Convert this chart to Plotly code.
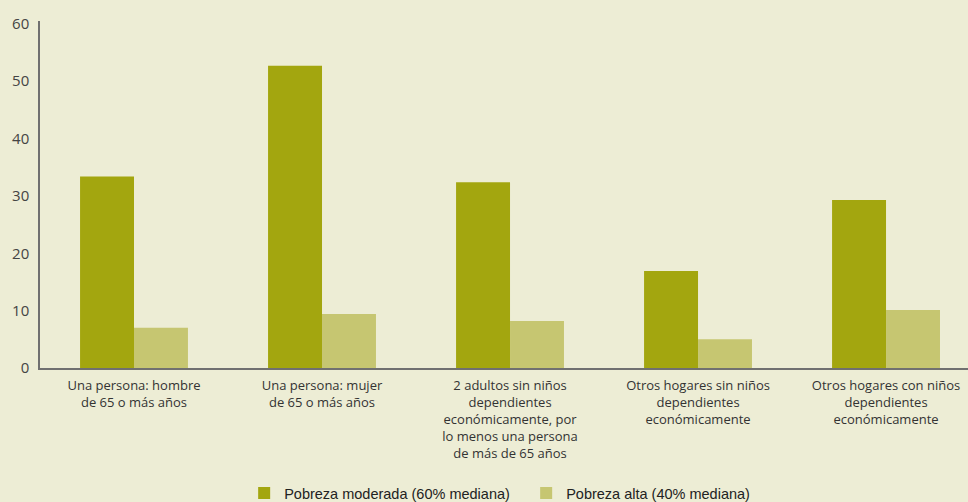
import plotly.graph_objects as go

categories = [
    "Una persona: hombre<br>de 65 o más años",
    "Una persona: mujer<br>de 65 o más años",
    "2 adultos sin niños<br>dependientes<br>económicamente, por<br>lo menos una persona<br>de más de 65 años",
    "Otros hogares sin niños<br>dependientes<br>económicamente",
    "Otros hogares con niños<br>dependientes<br>económicamente",
]
moderada = [33.4, 52.7, 32.4, 16.9, 29.3]
alta = [7.0, 9.4, 8.2, 5.0, 10.1]
series_names = ["Pobreza moderada (60% mediana)", "Pobreza alta (40% mediana)"]
y_ticks = [0, 10, 20, 30, 40, 50, 60]

bg = "#EDEDD5"
fig = go.Figure()
fig.add_bar(x=categories, y=moderada, name=series_names[0], marker_color="#A3A60F", marker_line_width=0)
fig.add_bar(x=categories, y=alta, name=series_names[1], marker_color="#C6C671", marker_line_width=0)

fig.update_layout(
    width=968, height=502,
    margin=dict(l=40, r=0, t=21, b=134, autoexpand=False),
    paper_bgcolor=bg, plot_bgcolor=bg,
    barmode="group", bargap=0.426, bargroupgap=0,
    showlegend=True,
    legend=dict(orientation="h", x=0.22, xanchor="left", yref="container", y=0.018, yanchor="middle",
                font=dict(family="Liberation Sans, Arial", size=14.5, color="#222"),
                itemwidth=30, entrywidth=237, traceorder="normal"),
    xaxis=dict(range=[-0.5, 4.436], showline=True, linecolor="#707070", linewidth=1.5,
               ticks="", showgrid=False, zeroline=False, automargin=False, ticklabelstandoff=5,
               tickfont=dict(family="Open Sans", size=13, color="#333")),
    yaxis=dict(range=[0, 60.5], tickvals=y_ticks, showline=True, linecolor="#707070", linewidth=1.5,
               ticks="", showgrid=False, zeroline=False, ticklabelstandoff=6, automargin=False,
               tickfont=dict(family="Open Sans", size=15, color="#444")),
)
fig.write_html("out.html", config={"displayModeBar": False},
               post_script="document.body.style.margin='0';document.body.style.padding='0';")
